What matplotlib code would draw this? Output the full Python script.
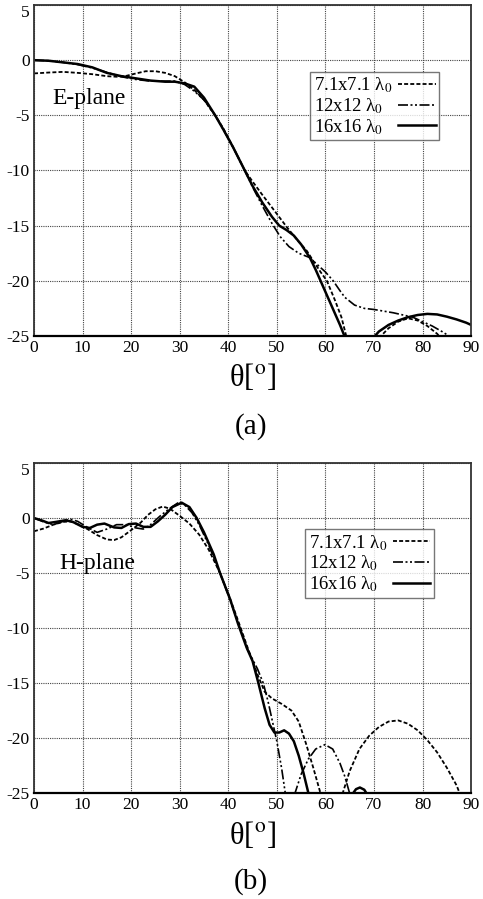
import numpy as np
import matplotlib
matplotlib.use("Agg")
import matplotlib.pyplot as plt

plt.rcParams['font.family'] = ['Liberation Serif', 'DejaVu Serif']
plt.rcParams['mathtext.fontset'] = 'stix'
plt.rcParams['axes.unicode_minus'] = False

nan = np.nan

# ---------------- E-plane data ----------------
e7_theta = [0, 3, 6, 9, 12, 15, 17, 19, 21, 23, 25, 27, 29, 31, 33, 35, 37.3, 39, 41, 43.4,
            45, 47, 49.6, 52, 54.2, 56.2, 57.5, 59, 60.3, 62, 63.3, 64.4,
            65, 71, 73, 75, 77, 79, 81, 83, 84]
e7_db = [-1.2, -1.12, -1.06, -1.15, -1.27, -1.45, -1.5, -1.42, -1.2, -1.0, -1.0, -1.15, -1.45, -2.0, -2.7, -3.6, -5.0, -6.2, -7.9, -10.0,
         -11.0, -12.2, -13.7, -15.1, -16.3, -17.3, -18.2, -19.2, -20.0, -21.8, -23.3, -25.2,
         nan, -25.2, -24.3, -23.7, -23.4, -23.6, -24.1, -24.8, -25.3]

e12_theta = [0, 3, 6, 9, 12, 15, 18, 21, 24, 27, 29, 31, 33, 35, 37.3, 39, 41, 43.4, 45, 47,
             49, 50.7, 52.5, 54.5, 56.8, 58, 60, 61.6, 63, 64, 66, 68, 70, 72, 74, 76, 78, 80,
             82, 84, 85.8]
e12_db = [0.0, -0.05, -0.2, -0.4, -0.7, -1.1, -1.5, -1.75, -1.9, -1.9, -1.9, -2.2, -2.8, -3.6, -5.0, -6.3, -7.9, -10.0, -11.5, -13.2,
          -14.8, -16.0, -16.9, -17.5, -17.9, -18.4, -19.2, -20.0, -20.9, -21.5, -22.2, -22.5, -22.6, -22.75, -22.9, -23.1, -23.3, -23.7,
          -24.1, -24.6, -25.1]

e16_theta = [0, 3, 6, 9, 12, 15, 18, 21, 24, 27, 29, 31, 33, 35, 37.3, 39, 41, 43.4, 45, 47,
             49, 50.5, 52, 53.5, 55, 56.8, 58, 59, 60, 61, 62, 63, 64.1,
             66, 69.8, 71, 73, 75, 77, 79, 81, 83, 85, 87, 89, 90]
e16_db = [0.0, -0.05, -0.2, -0.35, -0.65, -1.15, -1.45, -1.65, -1.85, -1.95, -1.95, -2.1, -2.4, -3.4, -5.0, -6.3, -7.9, -10.0, -11.4, -12.9,
          -14.2, -15.0, -15.4, -15.9, -16.7, -17.9, -19.0, -20.0, -21.0, -22.0, -23.0, -24.0, -25.2,
          nan, -25.2, -24.6, -24.0, -23.6, -23.3, -23.1, -23.0, -23.05, -23.25, -23.5, -23.8, -24.0]

# ---------------- H-plane data ----------------
h7_theta = [0, 2, 4, 6, 7.5, 9, 11, 13, 15, 16.5, 18, 20, 22, 23.5, 25, 26.5, 28, 30, 32, 34,
            36, 38.3, 40, 42, 44, 46, 47.5, 49, 51, 53, 54.5, 56, 57.5, 59.1,
            61, 63.5, 65, 67, 69, 71, 73, 75, 77, 79, 81, 83, 85, 87, 87.8]
h7_db = [-1.2, -0.95, -0.6, -0.35, -0.3, -0.55, -1.0, -1.55, -1.95, -2.0, -1.75, -1.1, -0.4, 0.3, 0.8, 1.05, 0.85, 0.2, -0.5, -1.5,
         -2.9, -5.0, -6.9, -9.3, -11.8, -14.2, -15.8, -16.4, -16.9, -17.5, -18.5, -20.5, -22.7, -25.2,
         nan, -25.1, -23.0, -21.0, -19.8, -19.0, -18.5, -18.4, -18.7, -19.3, -20.2, -21.3, -22.7, -24.3, -25.2]

h12_theta = [0, 2, 4, 6, 7.5, 9, 11, 13, 15, 17, 19, 21, 22.5, 24, 26, 28, 29.7, 31, 32.5, 34,
             36, 38.3, 40, 42, 44, 46, 47.2, 48.2, 49.2, 50, 51, 51.8,
             52.5, 53.6, 55, 56.5, 58, 59.9, 61.5, 63, 64, 65.1]
h12_db = [0.0, -0.35, -0.6, -0.3, -0.1, -0.3, -0.85, -1.3, -1.0, -0.6, -0.6, -0.9, -1.0, -0.6, 0.2, 0.9, 1.4, 1.2, 0.5, -0.6,
          -2.5, -5.0, -7.0, -9.5, -12.0, -13.7, -15.0, -16.7, -18.7, -20.3, -22.8, -25.2,
          nan, -25.2, -23.3, -21.9, -21.0, -20.6, -21.0, -22.3, -23.5, -25.2]

h16_theta = [0, 1.5, 3, 4.5, 6.5, 8, 10, 11.5, 13, 14.5, 16.5, 18, 19.5, 21, 22.5, 24, 25.5, 27, 28.5, 30.4,
             32, 33.5, 35, 37, 38.3, 40.4, 42, 43.8, 45, 46.2, 47.5, 48.5, 49.5, 50.5, 51.5, 52.5, 53.5,
             54.5, 55.5, 56.6, 60, 65.4, 66.3, 67.1, 68, 68.7]
h16_db = [0.0, -0.2, -0.45, -0.35, -0.2, -0.35, -0.8, -0.9, -0.6, -0.5, -0.85, -0.9, -0.55, -0.5, -0.8, -0.8, -0.3, 0.3, 1.0, 1.4,
          1.0, 0.0, -1.3, -3.3, -5.0, -7.4, -9.6, -11.8, -13.0, -15.0, -17.3, -18.8, -19.5, -19.5, -19.3, -19.6, -20.3,
          -21.6, -23.2, -25.2, nan, -25.2, -24.65, -24.5, -24.7, -25.2]

labels = ['7.1x7.1 λ$_0$', '12x12 λ$_0$', '16x16 λ$_0$']
x_ticks = [0, 10, 20, 30, 40, 50, 60, 70, 80, 90]
y_ticks = [5, 0, -5, -10, -15, -20, -25]

styles = [
    dict(color='black', lw=1.3, linestyle=(0, (2.2, 1.2))),
    dict(color='black', lw=1.2, linestyle=(0, (6, 1.5, 1.2, 1.5, 1.2, 1.5))),
    dict(color='black', lw=1.8, linestyle='-'),
]

fig = plt.figure(figsize=(4.83, 8.99), dpi=100)
legends = []

def make_axes(rect, series, plane_text, text_xy, legend_anchor, sub_label, sub_y, theta_y):
    ax = fig.add_axes(rect)
    for (th, db), lab, st in zip(series, labels, styles):
        ax.plot(th, db, label=lab, **st)
    ax.set_xlim(0, 90)
    ax.set_ylim(-25, 5)
    ax.set_xticks(x_ticks)
    ax.set_yticks(y_ticks)
    ax.grid(True, color='#444444', linestyle=(0, (1, 1)), lw=0.8)
    ax.tick_params(length=0, labelsize=12.5, pad=3)
    for s in ax.spines.values():
        s.set_color('#333333')
        s.set_linewidth(1.3)
    ax.spines['bottom'].set_color('black')
    ax.spines['bottom'].set_linewidth(1.6)
    for lab in ax.get_yticklabels():
        if lab.get_text() == '5':
            lab.set_va('top')
    ax.text(text_xy[0], text_xy[1], plane_text, fontsize=17, va='center', ha='left')
    leg = ax.legend(loc='upper left', bbox_to_anchor=legend_anchor, markerfirst=False,
                    fontsize=13.5, frameon=True, fancybox=False, edgecolor='#555555',
                    handlelength=2.0, handletextpad=0.3, labelspacing=0.05,
                    borderpad=0.2, borderaxespad=0)
    leg.get_frame().set_linewidth(1.0)
    legends.append(leg)
    fig.text(0.5225, theta_y, 'θ[$^{\\mathrm{o}}$]', fontsize=22, ha='center', va='center')
    fig.text(0.52, sub_y, sub_label, fontsize=21, ha='center', va='center')
    return ax

make_axes([0.0704, 0.6263, 0.905, 0.3681],
          [(e7_theta, e7_db), (e12_theta, e12_db), (e16_theta, e16_db)],
          'E-plane', (3.7, -3.5), (0.632, 0.798), '(a)', 1 - 427 / 899, 1 - 377 / 899)

make_axes([0.0704, 0.1179, 0.905, 0.3670],
          [(h7_theta, h7_db), (h12_theta, h12_db), (h16_theta, h16_db)],
          'H-plane', (5.3, -4.1), (0.620, 0.80), '(b)', 1 - 882 / 899, 1 - 836 / 899)

# left-align legend texts while keeping handles at the right
try:
    fig.canvas.draw()
    renderer = fig.canvas.get_renderer()
    for leg in legends:
        for col in leg._legend_handle_box.get_children():
            items = col.get_children()
            W = max(it.get_bbox(renderer).width for it in items)
            for it in items:
                it.mode = 'expand'
                it.width = W
except Exception:
    pass

fig.savefig('out.png', dpi=100)
